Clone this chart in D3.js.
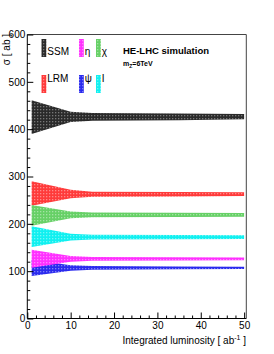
<!DOCTYPE html>
<html><head><meta charset="utf-8">
<script src="https://cdn.jsdelivr.net/npm/d3@7"></script>
<style>body{margin:0;background:#fff}text{font-family:"Liberation Sans",Arial,sans-serif}</style>
</head><body>
<script>
// luminosity knots [ab^-1]
const lumi = [1, 10, 15, 35, 50];
const seriesNames = ["SSM", "LRM", "χ", "I", "ψ", "η"];
const seriesColors = ["#2a2a2a", "#ff3a3a", "#66d066", "#10f0f0", "#2a2aee", "#ff30ff"];
// band edges (sigma [ab]) at each lumi knot
const upperSSM = [461, 437, 434, 433, 432];
const lowerSSM = [390, 415, 418, 419, 421];
const upperLRM = [290, 272, 268, 267, 266.5];
const lowerLRM = [238, 254, 257, 258, 259];
const upperChi = [240, 226, 224, 223.5, 223];
const lowerChi = [196, 212, 214, 214.5, 215];
const upperI = [195, 179, 177, 176.5, 176];
const lowerI = [151, 165, 167, 167.5, 168];
const upperPsi = [124, 112.5, 111, 110, 109.5];
const lowerPsi = [90, 101, 103, 104, 104.5];
const upperEta = [145, 132, 130, 129.5, 129];
const lowerEta = [107, 120, 122, 122.5, 123];
const xTicks = [0, 10, 20, 30, 40, 50];
const yTicks = [0, 100, 200, 300, 400, 500, 600];

const uppers = [upperSSM, upperLRM, upperChi, upperI, upperPsi, upperEta];
const lowers = [lowerSSM, lowerLRM, lowerChi, lowerI, lowerPsi, lowerEta];

const W = 274, H = 354;
const svg = d3.select("body").append("svg").attr("width", W).attr("height", H);
const x = d3.scaleLinear().domain([0, 50.5]).range([27.3, 246.3]);
const y = d3.scaleLinear().domain([0, 600]).range([318.5, 34.5]);

const defs = svg.append("defs");
seriesColors.forEach((c, i) => {
  const p = defs.append("pattern").attr("id", "pat" + i).attr("patternUnits", "userSpaceOnUse")
    .attr("width", 3).attr("height", 3);
  p.append("rect").attr("width", 3).attr("height", 3).attr("fill", c);
  p.append("rect").attr("x", 1).attr("y", 1).attr("width", 1.3).attr("height", 1.3)
    .attr("fill", i === 0 ? "#8a8a8a" : "#ffffff").attr("opacity", i === 0 ? 0.8 : 0.4);
});

// frame
svg.append("line").attr("x1", x(0)).attr("x2", x(50.5)).attr("y1", y(600)).attr("y2", y(600)).attr("stroke", "#444");
svg.append("line").attr("x1", x(50.5)).attr("x2", x(50.5)).attr("y1", y(600)).attr("y2", y(0)).attr("stroke", "#444");

// bands
const area = d3.area().x(d => x(d.l)).y0(d => y(d.lo)).y1(d => y(d.up));
seriesNames.forEach((n, i) => {
  const data = lumi.map((l, k) => ({l, up: uppers[i][k], lo: lowers[i][k]}));
  svg.append("path").datum(data).attr("d", area).attr("fill", `url(#pat${i})`);
});

// axes
const gx = svg.append("g").attr("transform", `translate(0,${y(0)})`);
gx.call(d3.axisBottom(x).tickValues(xTicks).tickSize(-6).tickPadding(3.5).tickFormat(d3.format("d")));
const gxm = svg.append("g").attr("transform", `translate(0,${y(0)})`);
gxm.call(d3.axisBottom(x).tickValues(d3.range(0, 51, 2).filter(v => v % 10)).tickSize(-3).tickFormat(""));
const gy = svg.append("g").attr("transform", `translate(${x(0)},0)`);
gy.call(d3.axisLeft(y).tickValues(yTicks).tickSize(-6).tickPadding(2).tickFormat(d3.format("d")));
const gym = svg.append("g").attr("transform", `translate(${x(0)},0)`);
gym.call(d3.axisLeft(y).tickValues(d3.range(0, 601, 20).filter(v => v % 100)).tickSize(-3).tickFormat(""));
[gx, gxm, gy, gym].forEach(g => {
  g.selectAll("text").attr("font-size", 10).attr("font-family", "Liberation Sans, Arial, sans-serif").attr("fill", "#000");
  g.selectAll("line,path").attr("stroke", "#000");
});
gxm.select(".domain").remove(); gym.select(".domain").remove();
gx.select(".domain").attr("d", `M${x(0)},0H${x(50.5)}`);
gy.select(".domain").attr("d", `M0,${y(0)}V${y(600)}`);

// axis titles
svg.append("text").attr("transform", "translate(10,34) rotate(-90)").attr("text-anchor", "end")
  .attr("font-size", 10).text("σ [ ab ]");
const xt = svg.append("text").attr("x", 246).attr("y", 344).attr("text-anchor", "end").attr("font-size", 10);
xt.append("tspan").text("Integrated luminosity [ ab");
xt.append("tspan").attr("font-size", 7).attr("dy", -4).text("-1");
xt.append("tspan").attr("dy", 4).text(" ]");

// legend
const legX = [41.5, 79, 96];
const legPos = [
  {i: 0, col: 0, top: 39, base: 55},
  {i: 5, col: 1, top: 39, base: 55},
  {i: 2, col: 2, top: 39, base: 55},
  {i: 1, col: 0, top: 75, base: 82},
  {i: 4, col: 1, top: 75, base: 82},
  {i: 3, col: 2, top: 75, base: 82}
];
legPos.forEach(p => {
  svg.append("rect").attr("x", legX[p.col]).attr("y", p.top).attr("width", 4.8).attr("height", 18)
    .attr("fill", `url(#pat${p.i})`);
  svg.append("text").attr("x", legX[p.col] + 5.8).attr("y", p.base).attr("font-size", 10)
    .text(seriesNames[p.i]);
});

// labels
svg.append("text").attr("x", 123).attr("y", 54).attr("font-size", 9.5).attr("font-weight", "bold").text("HE-LHC simulation");
const m = svg.append("text").attr("x", 123).attr("y", 66).attr("font-size", 7).attr("font-weight", "bold");
m.append("tspan").text("m");
m.append("tspan").attr("font-size", 5).attr("dy", 1.5).text("Z");
m.append("tspan").attr("dy", -1.5).text("=6TeV");
</script>
</body></html>
